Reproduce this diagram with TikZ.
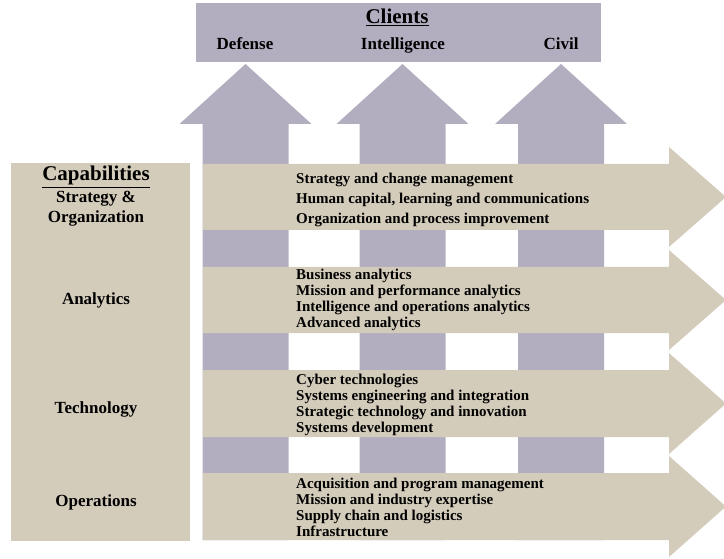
\documentclass[tikz,border=0pt]{standalone}
\usepackage{fontspec}
\setmainfont{Liberation Serif}
\usepackage{tikz}
\usetikzlibrary{positioning}
\definecolor{clientpurple}{RGB}{179,173,192}
\definecolor{capatan}{RGB}{212,204,187}
\newcommand{\uparrowat}[1]{%
  \fill[clientarrow] (#1-43,540) -- (#1-43,124) -- (#1-66,124) -- (#1,64)
    -- (#1+66,124) -- (#1+43,124) -- (#1+43,540) -- cycle;}
\newcommand{\rightbar}[2]{%
  \fill[capabar] (203,#1) -- (669,#1) -- (669,#1-17) -- (726,{(#1+#2)/2})
    -- (669,#2+17) -- (669,#2) -- (203,#2) -- cycle;}

\begin{document}
\begin{tikzpicture}[x=1pt, y=-1pt,
  clientarrow/.style={fill=clientpurple},
  capabar/.style={fill=capatan},
  title/.style={font=\bfseries\fontsize{21}{24}\selectfont, inner sep=0pt, anchor=base},
  group/.style={font=\bfseries\fontsize{17}{20}\selectfont, inner sep=0pt, anchor=base},
  items/.style={font=\bfseries\fontsize{15}{16}\selectfont, inner sep=0pt, anchor=west, align=left}]
  \clip (0,0) rectangle (724,559);
  \useasboundingbox (0,0) rectangle (724,559);

  % Clients
  \fill[clientpurple] (196,3) rectangle (601,62);
  \node (clients) at (397,24) [title] {\underline{Clients}};
  \node (defense) at (245,50) [group] {Defense};
  \node (intel) at (403,50) [group] {Intelligence};
  \node (civil) at (561,50) [group] {Civil};

  % Arrows up
  \uparrowat{245.5}
  \uparrowat{402.5}
  \uparrowat{561}

  % Capabilities
  \fill[capatan] (11,163) rectangle (190,541);
  \node (capab) at (96,181) [title] {\underline{Capabilities}};
  \node (strat) at (96,203) [group] {Strategy \&};
  \node (org) at (96,223) [group] {Organization};
  \node (analyt) at (96,305) [group] {Analytics};
  \node (tech) at (96,413) [group] {Technology};
  \node (ops) at (96,506) [group] {Operations};

  % Arrows right
  \rightbar{164}{230}
  \rightbar{267}{333}
  \rightbar{370}{437}
  \rightbar{473}{540}

  \node (stratitems) at (296,199.5) [items, font=\bfseries\fontsize{15}{20}\selectfont]
    {Strategy and change management\\Human capital, learning and communications\\Organization and process improvement};
  \node (analytitems) at (296,300) [items]
    {Business analytics\\Mission and performance analytics\\Intelligence and operations analytics\\Advanced analytics};
  \node (techitems) at (296,404.5) [items]
    {Cyber technologies\\Systems engineering and integration\\Strategic technology and innovation\\Systems development};
  \node (opsitems) at (296,507) [items]
    {Acquisition and program management\\Mission and industry expertise\\Supply chain and logistics\\Infrastructure};
\end{tikzpicture}
\end{document}
